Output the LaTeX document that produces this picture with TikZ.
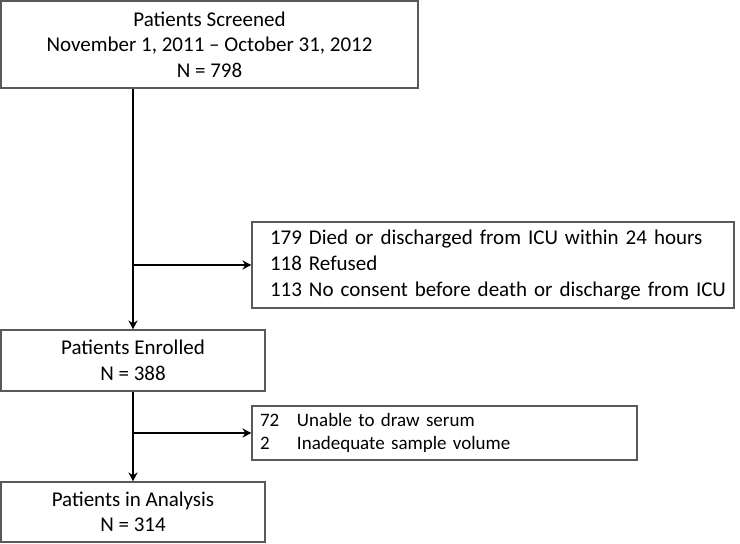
\documentclass[tikz,border=0pt]{standalone}
\usepackage{fontspec}
\setmainfont{Carlito}
\usetikzlibrary{arrows.meta}
\tikzset{
  stage/.style={draw=black!65, line width=1.1pt, align=center, inner sep=0pt,
    font=\fontsize{21}{25.5}\selectfont},
  excl/.style={draw=black!65, line width=1.1pt, align=left, inner ysep=0pt},
  flow/.style={line width=1.6pt, -{Stealth[length=9pt,width=9pt]}}
}
\newcommand{\stagebox}[6]{\node[stage, minimum width=#4, minimum height=#5] (#1) at ( #2 , #3 ) {#6};}
\newcommand{\exline}[1]{\mbox{#1}}
\newcommand{\exitem}[2]{\makebox[37pt][l]{#1}#2}

\begin{document}
\begin{tikzpicture}[x=1pt, y=-1pt]
        \useasboundingbox (0,0) rectangle (740,544);

        % stages
        \stagebox{screened}{209.5}{44.5}{417pt}{87pt}{Patients Screened\\November 1, 2011 -- October 31, 2012\\N = 798}
        \stagebox{enrolled}{133}{360.5}{264pt}{61pt}{Patients Enrolled\\N = 388}
        \stagebox{analysis}{133}{512}{264pt}{60pt}{Patients in Analysis\\N = 314}

        % exclusions
        \node[excl, text width=446pt, inner xsep=18pt, minimum height=86pt,
              font=\fontsize{21}{26}\selectfont] (died) at (493,265)
              {\exline{179 Died or discharged from ICU within 24 hours}\\
               \exline{118 Refused}\\
               \exline{113 No consent before death or discharge from ICU}};
        \node[excl, text width=369pt, inner xsep=8pt, minimum height=54pt,
              font=\fontsize{19}{23}\selectfont] (serum) at (444.5,433)
              {\exitem{72}{Unable to draw serum}\\\exitem{2}{Inadequate sample volume}};

        % arrows
        \draw[flow] (screened.south -| enrolled.north) -- (enrolled.north);
        \draw[flow] (died.west -| enrolled.north) -- (died.west);
        \draw[flow] (enrolled.south) -- (analysis.north);
        \draw[flow] (serum.west -| enrolled.south) -- (serum.west);
\end{tikzpicture}
\end{document}
